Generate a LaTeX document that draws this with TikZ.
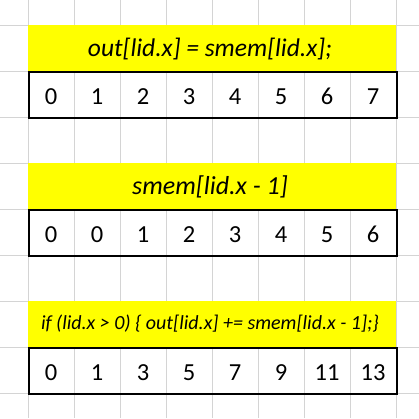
\documentclass[tikz,border=0pt]{standalone}
\usepackage{fontspec}
\setmainfont{Carlito}
\definecolor{excelgrid}{HTML}{D4D4D4}
\definecolor{banneryellow}{HTML}{FFFF00}
\tikzset{
  gridline/.style={draw=excelgrid, line width=1pt},
  banner/.style={fill=banneryellow, draw=none, inner sep=0pt, minimum width=368pt, minimum height=46pt, anchor=north west},
  bannertext/.style={anchor=base, inner sep=0pt, font=\fontsize{#1}{#1}\selectfont\itshape},
  rowbox/.style={draw=black, line width=2pt, fill=none, inner sep=0pt, minimum width=368pt, minimum height=46pt, anchor=north west},
  digit/.style={anchor=base, inner sep=0pt, font=\fontsize{24.5}{24.5}\selectfont}
}
\begin{document}
\begin{tikzpicture}[x=1pt,y=-1pt]
\useasboundingbox (0,0) rectangle (419,418);
\fill[white] (0,0) rectangle (419,418);
% spreadsheet grid
\foreach \i in {0,...,8} {
  \draw[gridline] (28+46*\i,0) -- (28+46*\i,418);
  \draw[gridline] (0,25+46*\i) -- (419,25+46*\i);
}
% banners
\node[banner] (b1) at (28,25) {};
\node[banner] (b2) at (28,163) {};
\node[banner] (b3) at (28,301) {};
\node[bannertext=25.5] (t1) at (210,56) {out[lid.x] = smem[lid.x];};
\node[bannertext=26] (t2) at (210,194) {smem[lid.x - 1]};
\node[bannertext=20] (t3) at (210,329.5) {if (lid.x > 0) \{ out[lid.x] += smem[lid.x - 1];\}};
% rows of values
\foreach \v [count=\i from 0] in {0,1,2,3,4,5,6,7}
  \node[digit] (ra\i) at (51+46*\i,104) {\v};
\foreach \v [count=\i from 0] in {0,0,1,2,3,4,5,6}
  \node[digit] (rb\i) at (51+46*\i,242) {\v};
\foreach \v [count=\i from 0] in {0,1,3,5,7,9,11,13}
  \node[digit] (rc\i) at (51+46*\i,380) {\v};
\node[rowbox] (row1) at (28,71) {};
\node[rowbox] (row2) at (28,209) {};
\node[rowbox] (row3) at (28,347) {};
\end{tikzpicture}
\end{document}
